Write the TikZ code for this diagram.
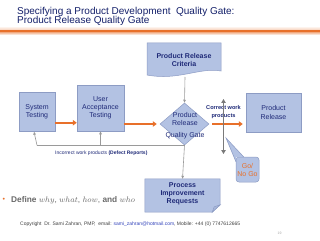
\documentclass[tikz,border=0pt]{standalone}
\usepackage{fontspec}
\setmainfont{Liberation Sans}
\usetikzlibrary{shapes.geometric,arrows.meta,calc}
\definecolor{navy}{HTML}{1F2A78}
\definecolor{titleblue}{HTML}{14206A}
\definecolor{boxfill}{HTML}{B3C2E3}
\definecolor{boxline}{HTML}{8D9CC4}
\definecolor{orng}{HTML}{E8702A}
\definecolor{conn}{HTML}{9A9A9A}
\definecolor{darkconn}{HTML}{7A7A7A}
\definecolor{txtgray}{HTML}{6A6A6A}
\definecolor{mailblue}{HTML}{3344BB}
\tikzset{
  box/.style={draw=boxline, fill=boxfill, line width=0.5pt, inner sep=1pt, align=center,
              text=navy, font=\fontsize{7}{8.2}\selectfont},
  boldtxt/.style={text=navy, align=center, font=\fontsize{7}{8.2}\selectfont\bfseries, inner sep=0pt},
  oarrow/.style={draw=orng, line width=2.2pt, -{Triangle[length=4pt,width=5.5pt]}},
  gl/.style={draw=conn, line width=0.6pt},
  gla/.style={gl, -{Triangle[length=3pt,width=2.5pt]}},
}
\begin{document}
\begin{tikzpicture}[x=1pt,y=-1pt]
\useasboundingbox (0,0) rectangle (320,240);
\fill[white] (0,0) rectangle (320,240);
% title
\node[anchor=base west, inner sep=0pt, text=titleblue, font=\fontsize{10}{10}\selectfont] (t1) at (17,15) {Specifying a Product Development\ \ Quality Gate:};
\node[anchor=base west, inner sep=0pt, text=titleblue, font=\fontsize{10}{10}\selectfont] (t2) at (17,24) {Product Release Quality Gate};
\shade[top color=white, bottom color=orng!35] (0,26) rectangle (320,30.2);
\fill[orng] (0,30.2) rectangle (320,33);
\shade[top color=orng!40, bottom color=white] (0,33) rectangle (320,35);
% criteria document
\node[minimum width=74pt, minimum height=34pt, inner sep=0pt] (crit) at (184,60) {};
\filldraw[draw=boxline, fill=boxfill, line width=0.5pt] (147,43) -- (221,43) -- (221,71)
   .. controls (200,67) and (178,81) .. (147,75) -- cycle;
\node[boldtxt] (crittxt) at (184,60) {Product Release\\Criteria};
\coordinate (critb) at (185,77);
% boxes
\node[box, minimum width=36pt, minimum height=39pt] (st) at (37,112) {System\\Testing};
\node[box, minimum width=47pt, minimum height=46pt] (uat) at (100.5,108) {User\\Acceptance\\Testing};
\node[box, minimum width=55pt, minimum height=39pt] (rel) at (273.5,112.5) {Product\\Release};
\node[diamond, draw=boxline, fill=boxfill, line width=0.5pt, minimum width=49pt, minimum height=42pt, inner sep=0pt] (gate) at (184.5,124) {};
\node[text=navy, align=center, font=\fontsize{7}{8}\selectfont, inner sep=0pt] (gt1) at (185,119) {Product\\Release};
\node[text=navy, font=\fontsize{7}{8}\selectfont, inner sep=0pt] (gt2) at (185,135.5) {Quality Gate};
% process improvement
\node[minimum width=75pt, minimum height=33pt, inner sep=0pt] (pir) at (182.5,195.5) {};
\filldraw[draw=boxline, fill=boxfill, line width=0.5pt] (pir.north west) -- (pir.north east)
   -- ([yshift=-26pt]pir.north east) -- ([xshift=-8pt]pir.south east) -- (pir.south west) -- cycle;
\filldraw[draw=boxline, fill=boxfill!70!boxline, line width=0.5pt] ([yshift=-26pt]pir.north east) -- ([xshift=-6pt,yshift=-28pt]pir.north east) -- ([xshift=-8pt]pir.south east) -- cycle;
\node[boldtxt] (pirtxt) at (182.5,194) {Process\\Improvement\\Requests};
% orange arrows
\draw[oarrow] ([yshift=9pt]st.south east) -- ([yshift=9pt]st.south east -| uat.west);
\draw[oarrow, shorten >=3pt] (uat.east |- gate.west) -- (gate.west);
\draw[oarrow, shorten <=3pt, shorten >=3pt] (gate.east) -- (gate.east -| rel.west);
% gray connectors
\draw[gla] (critb) -- (gate.north);
\draw[gl] (gate.south) -- (gate.south -| st.south) coordinate (fb);
\draw[gla] (fb) -- ([xshift=-3pt]st.south);
\draw[gla] (gate.south -| uat.south) -- (uat.south);
\draw[gla] (gate.south) -- (pir.north);
\node[text=navy, font=\fontsize{5}{6}\selectfont, inner sep=0pt, anchor=base west] (inc) at (55,154.5) {Incorrect work products \textbf{(Defect Reports)}};
% correct work products
\node[boldtxt, font=\fontsize{5.6}{8.2}\selectfont\bfseries] (cwp) at (223.5,112) {Correct work\\products};
\coordinate (vt) at (223.5,99);
\coordinate (vb) at (223.5,154);
\draw[draw=darkconn, line width=1.4pt, {Triangle[length=4pt,width=4.5pt]}-{Triangle[length=4pt,width=4.5pt]}] (vt) -- (vb);
% callout
\coordinate (tip) at (226,138);
\node[draw=boxline, fill=boxfill, line width=0.5pt, rounded corners=3pt, minimum width=23pt, minimum height=25pt,
      align=center, text=orng, font=\fontsize{7}{8}\selectfont, inner sep=0pt] (go) at (247.5,169.5) {Go/\\No Go};
\fill[boxfill] ([yshift=-5pt]go.north west) -- (tip) -- ([xshift=8pt]go.north west) -- ([xshift=0.4pt,yshift=-0.4pt]go.north west) -- cycle;
\draw[draw=boxline, line width=0.5pt] ([xshift=0.25pt,yshift=-5pt]go.north west) -- (tip) -- ([xshift=8pt,yshift=-0.25pt]go.north west);
% bullet
\node[anchor=base west, inner sep=0pt, text=orng, font=\fontsize{7}{8}\selectfont] (dot) at (2.5,201.5) {•};
\node[anchor=base west, inner sep=0pt, text=txtgray, font=\fontsize{8.3}{10}\selectfont] (bul) at (11,202)
  {\textbf{Define} $why$, $what$, $how$, \textbf{and} $who$};
% footer
\node[anchor=base west, inner sep=0pt, text=black!75, font=\fontsize{5}{6}\selectfont] (copy) at (20,225)
  {Copyright\ \ Dr. Sami Zahran, PMP,\ \ email: {\color{mailblue}sami\_zahran@hotmail.com}, Mobile: +44 (0) 7747612665};
\node[inner sep=0pt, text=black!35, font=\fontsize{3.5}{4}\selectfont] (pg) at (279.5,233) {19};
\end{tikzpicture}
\end{document}
